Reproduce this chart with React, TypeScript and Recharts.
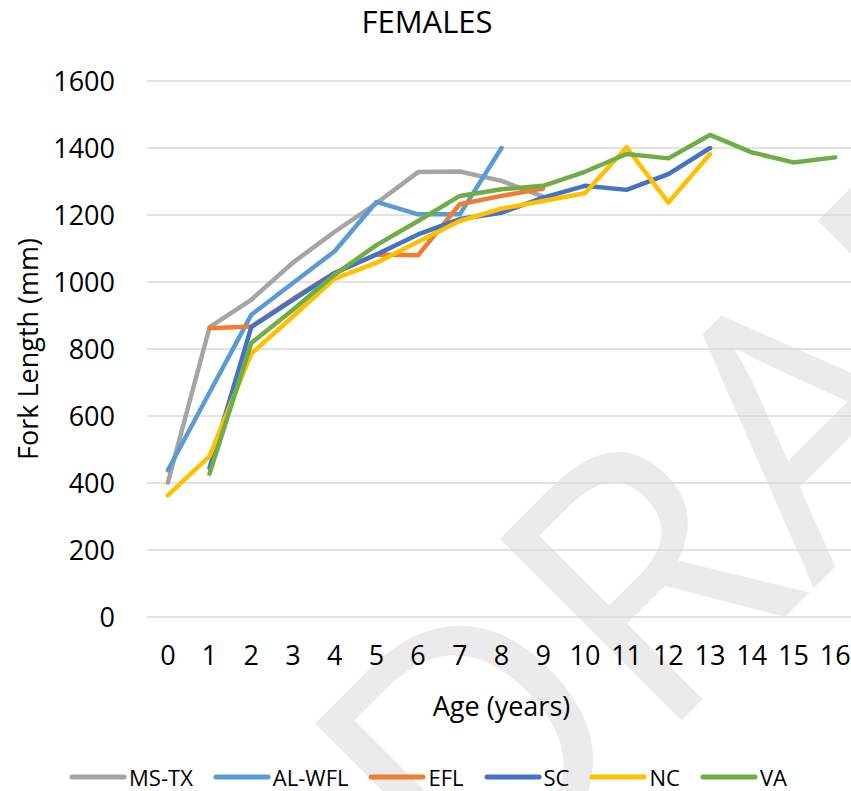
import { LineChart, Line, XAxis, YAxis, CartesianGrid, Legend } from 'recharts'

const ages = [0, 1, 2, 3, 4, 5, 6, 7, 8, 9, 10, 11, 12, 13, 14, 15, 16]
const yTicks = [0, 200, 400, 600, 800, 1000, 1200, 1400, 1600]

const msTx = [401, 865, 947, 1058, 1150, 1235, 1328, 1330, 1302, 1255]
const alWfl = [438, 670, 902, 997, 1092, 1239, 1202, 1202, 1400]
const efl = [null, 862, 867, 950, 1027, 1082, 1080, 1232, 1257, 1279]
const sc = [null, 445, 865, 947, 1027, 1082, 1142, 1188, 1207, 1252, 1287, 1275, 1322, 1400]
const nc = [363, 480, 786, 897, 1010, 1057, 1120, 1182, 1219, 1242, 1265, 1402, 1237, 1382]
const va = [null, 428, 818, 917, 1022, 1110, 1182, 1257, 1277, 1287, 1329, 1382, 1369, 1439, 1387, 1357, 1372]

const series = [
  { name: 'MS-TX', values: msTx, color: '#A5A5A5' },
  { name: 'AL-WFL', values: alWfl, color: '#5B9BD5' },
  { name: 'EFL', values: efl, color: '#ED7D31' },
  { name: 'SC', values: sc, color: '#4472C4' },
  { name: 'NC', values: nc, color: '#FFC000' },
  { name: 'VA', values: va, color: '#70AD47' },
]

const rows = ages.map((age, i) => {
  const row: Record<string, number | null> = { age }
  series.forEach((s) => {
    const v = s.values[i]
    row[s.name] = v === undefined ? null : v
  })
  return row
})

const font = '"Open Sans", sans-serif'

function LegendRow() {
  return (
    <div
      style={{
        display: 'flex',
        justifyContent: 'center',
        alignItems: 'center',
        height: 26,
        fontFamily: font,
        fontSize: 22,
        color: '#000',
      }}
    >
      {series.map((s, i) => (
        <div
          key={s.name}
          style={{ display: 'flex', alignItems: 'center', marginRight: i < series.length - 1 ? 20 : 0 }}
        >
          <svg width={58} height={8}>
            <line x1={3} y1={4} x2={55} y2={4} stroke={s.color} strokeWidth={5} strokeLinecap="round" />
          </svg>
          <span style={{ marginLeft: 2, lineHeight: '22px' }}>{s.name}</span>
        </div>
      ))}
    </div>
  )
}

export default function App() {
  return (
    <div
      style={{
        position: 'absolute',
        left: 0,
        top: 0,
        width: 851,
        height: 791,
        overflow: 'hidden',
        background: '#fff',
      }}
    >
      <svg width={851} height={791} style={{ position: 'absolute', left: 0, top: 0 }}>
        <text
          x={472}
          y={930}
          transform="rotate(-45 472 930)"
          fontFamily={font}
          fontSize={360}
          fill="#ebebeb"
        >
          DRAFT
        </text>
        <text x={427} y={33} textAnchor="middle" fontFamily={font} fontSize={31} fill="#000">
          FEMALES
        </text>
      </svg>
      <LineChart width={870} height={790} data={rows} margin={{ top: 81, right: 14, left: 0, bottom: 0 }}>
        <CartesianGrid vertical={false} stroke="#d9d9d9" strokeWidth={1.5} />
        <XAxis
          dataKey="age"
          type="number"
          domain={[-0.5, 16.5]}
          ticks={ages}
          interval={0}
          axisLine={false}
          tickLine={false}
          tickSize={0}
          tickMargin={29}
          height={147}
          tick={{ fontSize: 27, fill: '#000', fontFamily: font }}
          label={{
            value: 'Age (years)',
            position: 'insideTop',
            offset: 80,
            style: { fontSize: 27, fill: '#000', fontFamily: font },
          }}
        />
        <YAxis
          domain={[0, 1600]}
          ticks={yTicks}
          interval={0}
          axisLine={false}
          tickLine={false}
          tickSize={0}
          tickMargin={32}
          width={147}
          tick={{ fontSize: 27, fill: '#000', fontFamily: font }}
          label={{
            value: 'Fork Length (mm)',
            angle: -90,
            position: 'insideLeft',
            offset: 28,
            style: { fontSize: 27, fill: '#000', fontFamily: font, textAnchor: 'middle' },
          }}
        />
        <Legend verticalAlign="bottom" content={() => <LegendRow />} />
        {series.map((s) => (
          <Line
            key={s.name}
            type="linear"
            dataKey={s.name}
            stroke={s.color}
            strokeWidth={4.5}
            strokeLinejoin="round"
            strokeLinecap="round"
            dot={false}
            activeDot={false}
            isAnimationActive={false}
          />
        ))}
      </LineChart>
    </div>
  )
}
